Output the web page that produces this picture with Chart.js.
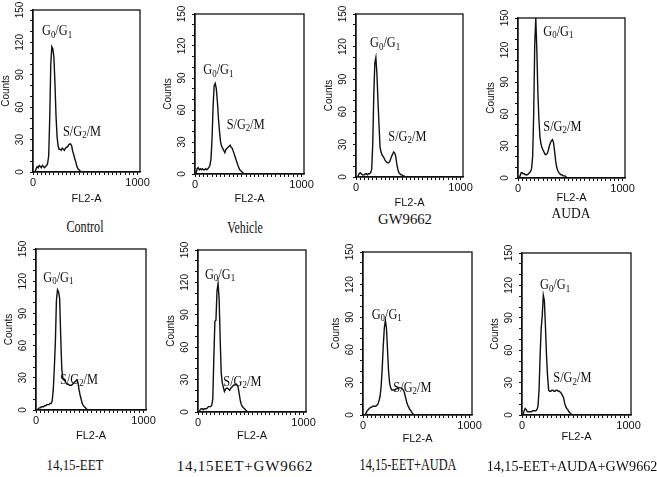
<!DOCTYPE html>
<html>
<head>
<meta charset="utf-8">
<script src="https://cdn.jsdelivr.net/npm/chart.js@4.4.0/dist/chart.umd.min.js"></script>
<style>
html,body{margin:0;padding:0;background:#fff;}
body{width:657px;height:477px;position:relative;overflow:hidden;}
.cap{position:absolute;font-family:"Liberation Serif","Times New Roman",serif;color:#111;white-space:nowrap;line-height:1;}
</style>
</head>
<body>
<script>
// ---- DATA ----
const channels = [0,10,20,30,40,50,60,70,80,90,100,110,120,130,140,150,160,170,180,190,200,210,220,230,240,250,260,270,280,290,300,310,320,330,340,350,360,370,380,390,400,410,420,430,440,450,460,470,480,490,500];
const countsControl = [0,0,0,3,5,4,6,5,4,6,5,4,5,6,8,15,50,100,116,114,106,82,52,33,24,21,21,20,22,21,20,22,23,23,25,26,26,24,19,16,12,9,5,3,2,1,0,0,0,0,0];
const countsVehicle = [0,0,5,6,4,5,4,5,4,4,5,4,5,6,8,14,33,64,83,85,80,68,52,40,30,26,24,22,20,23,24,25,26,27,25,24,21,18,15,12,9,6,4,3,2,1,0,0,0,0,0];
const countsGW9662 = [0,0,1,3,4,3,2,2,2,3,3,2,3,3,4,7,30,75,105,110,95,70,48,27,23,20,19,17,15,14,13,13,14,16,19,21,23,22,19,12,7,4,3,2,2,1,1,0,0,0,0];
const countsAUDA = [0,0,2,5,5,4,4,3,3,3,4,5,6,9,20,60,125,150,120,80,55,38,32,28,26,24,22,22,23,26,30,33,35,36,33,25,16,10,7,5,4,3,3,2,2,2,1,0,0,0,0];
const countsEET = [0,0,1,2,2,3,3,3,4,4,5,5,5,6,6,8,18,38,63,102,112,110,104,68,38,29,28,27,25,24,24,23,23,23,24,25,26,27,28,26,19,14,10,6,4,3,2,1,0,0,0];
const countsEETGW = [0,0,2,3,3,2,3,3,3,4,5,5,5,6,12,50,84,85,112,119,105,68,36,27,23,19,21,22,22,21,20,22,23,24,25,25,26,25,23,17,11,7,5,4,3,2,1,0,0,0,0];
const countsEETAUDA = [0,0,0,2,4,5,6,7,7,8,8,8,8,9,10,13,17,26,42,63,80,87,80,60,40,29,25,23,23,23,23,24,24,25,25,25,25,24,23,20,16,12,9,7,5,4,2,1,0,0,0];
const countsEETAUDAGW = [0,0,4,6,5,3,3,3,3,3,4,4,4,4,5,8,23,55,80,92,111,106,82,55,36,23,22,22,23,23,22,22,23,23,22,22,21,20,18,16,11,8,6,5,3,2,1,0,0,0,0];

const yTickMarks = [0,10,20,30,40,50,60,70,80,90,100,110,120,130,140,150];
const yTickLabels = [0,30,60,90,120,150];
const xTickMarks = [0,40,80,120,160,200,240,280,320,360,400,440,480,520,560,600,640,680,720,760,800,840,880,920,960,1000];
const xTickLabels = [0,1000];
const captions = ['Control','Vehicle','GW9662','AUDA','14,15-EET','14,15EET+GW9662','14,15-EET+AUDA','14,15-EET+AUDA+GW9662'];
const seriesList = [countsControl,countsVehicle,countsGW9662,countsAUDA,countsEET,countsEETGW,countsEETAUDA,countsEETAUDAGW];

// ---- LAYOUT (pixel boxes, caption placement [cx, cy, size, squeeze, spacing], phase-label anchors in data units) ----
const panels = [
  {box:[33,10,140,172],  fy:200, cap:[85,227,16,0.76,0],   g0:[86,130],  sg:[287,37]},
  {box:[195,14,304,174], fy:200, cap:[245,228,16,0.74,0],  g0:[78,97],   sg:[297,46]},
  {box:[356,14,463,177], fy:204, cap:[405,219,15,0.98,0],  g0:[134,123], sg:[309,37]},
  {box:[518,18,625,178], fy:199, cap:[571,213,15,0.9,0],   g0:[242,137], sg:[242,48]},
  {box:[36,249,146,410], fy:437, cap:[75,465,15,0.86,0],   g0:[68,123],  sg:[223,28]},
  {box:[198,250,306,412],fy:437, cap:[245,466,15,1.0,0.8], g0:[66,127],  sg:[240,28]},
  {box:[363,252,472,415],fy:440, cap:[408,465,16,0.77,0],  g0:[81,92],   sg:[285,25]},
  {box:[522,253,631,415],fy:438, cap:[572,466,15,0.94,0],  g0:[169,120], sg:[294,34]}
];

const SANS = '"Liberation Sans", Arial, sans-serif';
const SERIF = '"Liberation Serif", "Times New Roman", serif';
const INK = '#111';

const framePlugin = {
  id:'frame',
  afterDatasetsDraw(chart){
    const {ctx, chartArea:a} = chart;
    ctx.save();
    ctx.strokeStyle = INK; ctx.lineWidth = 1.3;
    ctx.strokeRect(a.left, a.top, a.right-a.left, a.bottom-a.top);
    ctx.restore();
  }
};

const G0G1 = [['G',0],['0',1],['/',0],['G',0],['1',1]];
const SG2M = [['S/G',0],['2',1],['/M',0]];
const phasePlugin = {
  id:'phaseText',
  afterDatasetsDraw(chart, args, opts){
    const {ctx, scales:{x,y}} = chart;
    [[opts.g0, G0G1],[opts.sg, SG2M]].forEach(([pos, parts])=>{
      ctx.save();
      ctx.fillStyle = INK;
      ctx.textBaseline = 'middle';
      ctx.textAlign = 'left';
      ctx.translate(x.getPixelForValue(pos[0]), y.getPixelForValue(pos[1]));
      ctx.scale(0.85, 1);
      let px = 0;
      parts.forEach(([t, sub])=>{
        ctx.font = (sub ? '10.5px ' : '14.5px ') + SERIF;
        ctx.fillText(t, px, sub ? 3.5 : 0);
        px += ctx.measureText(t).width;
      });
      ctx.restore();
    });
  }
};

panels.forEach((p, i)=>{
  const [L,T,R,B] = p.box;
  const padTop = 10, yW = 33, padRight = 16;
  const hx = Math.round(p.fy - B + 6);
  const cv = document.createElement('canvas');
  cv.width = (R-L) + yW + padRight;
  cv.height = padTop + (B-T) + hx;
  cv.style.position = 'absolute';
  cv.style.left = (L - yW) + 'px';
  cv.style.top = (T - padTop) + 'px';
  document.body.appendChild(cv);

  const cap = document.createElement('div');
  cap.className = 'cap';
  cap.textContent = captions[i];
  cap.style.left = p.cap[0] + 'px';
  cap.style.top = p.cap[1] + 'px';
  cap.style.fontSize = p.cap[2] + 'px';
  cap.style.letterSpacing = p.cap[4] + 'px';
  cap.style.transform = 'translate(-50%,-50%) scaleX(' + p.cap[3] + ')';
  document.body.appendChild(cap);

  const gridOpts = {display:true, drawOnChartArea:false, drawTicks:true, tickLength:3, tickColor:INK, tickWidth:1};
  new Chart(cv, {
    type:'line',
    data:{datasets:[{
      data: channels.map((c,k)=>({x:c, y:seriesList[i][k]})),
      borderColor:INK, borderWidth:1.4, pointRadius:0, tension:0, fill:false
    }]},
    options:{
      responsive:false, animation:false, events:[],
      layout:{padding:{top:padTop, left:0, right:padRight, bottom:0}},
      plugins:{
        legend:{display:false}, tooltip:{enabled:false}, title:{display:false},
        phaseText:{g0:p.g0, sg:p.sg}
      },
      scales:{
        x:{
          type:'linear', min:0, max:1023,
          afterBuildTicks:s=>{ s.ticks = xTickMarks.map(v=>({value:v})); },
          afterFit:s=>{ s.height = hx; },
          ticks:{autoSkip:false, maxRotation:0, minRotation:0, padding:1, color:INK,
                 font:{family:SANS, size:11},
                 callback:v=> xTickLabels.includes(v) ? String(v) : ''},
          grid:gridOpts,
          border:{display:true, color:INK, width:1.3},
          title:{display:true, text:'FL2-A', color:INK, font:{family:SANS, size:11}, padding:0}
        },
        y:{
          type:'linear', min:0, max:150,
          afterBuildTicks:s=>{ s.ticks = yTickMarks.map(v=>({value:v})); },
          afterFit:s=>{ s.width = yW; },
          ticks:{autoSkip:false, minRotation:90, maxRotation:90, crossAlign:'center', padding:1, color:INK,
                 font:{family:SANS, size:10},
                 callback:v=> yTickLabels.includes(v) ? String(v) : ''},
          grid:gridOpts,
          border:{display:true, color:INK, width:1.3},
          title:{display:true, text:'Counts', color:INK, font:{family:SANS, size:10}, padding:0}
        }
      }
    },
    plugins:[framePlugin, phasePlugin]
  });
});
</script>
</body>
</html>
